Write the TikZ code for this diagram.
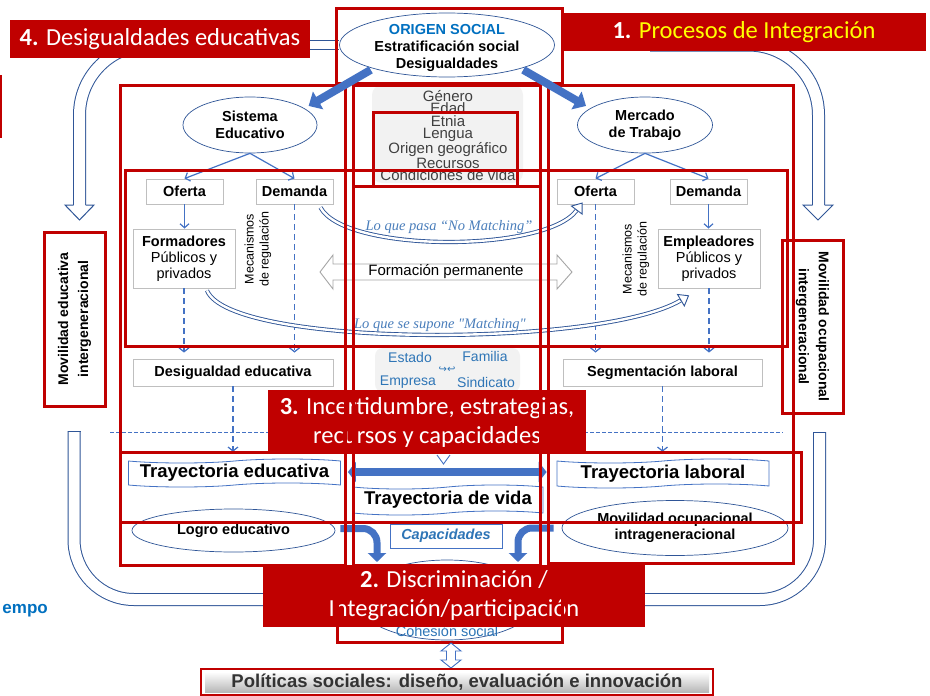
\documentclass[tikz,border=0pt]{standalone}
\usepackage{fontspec}
\setmainfont{Liberation Sans}
\newfontfamily\calfont{Carlito}
\newfontfamily\serffont{Liberation Serif}
\newfontfamily\djvfont{DejaVu Sans}
\usetikzlibrary{shapes.geometric,shapes.symbols,arrows.meta,calc}
\definecolor{dred}{HTML}{C00000}
\definecolor{ablue}{HTML}{4472C4}
\definecolor{dblue}{HTML}{2F5597}
\definecolor{tblue}{HTML}{2E75B6}
\definecolor{obl}{HTML}{0070C0}
\definecolor{itblue}{HTML}{4A7EBB}
\definecolor{lgray}{HTML}{F2F2F2}
\definecolor{bgray}{HTML}{BFBFBF}
\definecolor{agray}{HTML}{A6A6A6}
\definecolor{tgray}{HTML}{404040}
\definecolor{pgray}{HTML}{333333}
\definecolor{ylw}{HTML}{FFFF00}
\newcommand\myfs[2]{\fontsize{#1}{#2}\selectfont}
\begin{document}
\begin{tikzpicture}[x=1pt,y=-1pt,
  ell/.style={ellipse, draw=dblue, line width=0.7pt, fill=white, inner sep=0pt, align=center, font=\myfs{14.5}{16.5}\bfseries},
  gbox/.style={rectangle, draw=bgray, line width=0.9pt, fill=white, inner sep=0pt, align=center, font=\myfs{14.5}{16}},
  redbox/.style={draw=dred, line width=3pt},
  redlab/.style={rectangle, fill=dred, inner sep=0pt, text=white, align=center, font=\calfont\myfs{24.5}{29}},
  thinarr/.style={draw=ablue, line width=1.2pt, -{Straight Barb[length=4pt,width=9pt]}},
  dasharr/.style={draw=ablue, line width=1.2pt, dash pattern=on 6pt off 4pt, -{Straight Barb[length=4pt,width=10pt]}},
  dblcurve/.style={draw=dblue, line width=0.9pt, double=white, double distance=2.4pt},
  curvehead/.style={draw=dblue, line width=0.9pt, -{Triangle[length=10pt,width=15pt,fill=white]}},
  uarrow/.style={draw=dblue, line width=1pt, double=white, double distance=11pt},
  headstyle/.style={draw=dblue, line width=1pt, fill=white, line join=miter},
  blockarr/.style={draw=ablue, line width=8pt, -{Triangle[length=11pt,width=20pt]}},
  fatarr/.style={draw=ablue, line width=8pt, {Triangle[length=8pt,width=20pt]}-{Triangle[length=8pt,width=20pt]}},
  bentarr/.style={draw=ablue, line width=7pt, rounded corners=14pt, -{Triangle[length=9pt,width=18pt]}},
  trajtape/.style={tape, draw=ablue, line width=0.8pt, fill=white, tape bend top=in and out, tape bend bottom=in and out, tape bend height=4pt, inner sep=0pt, font=\myfs{18.5}{20}\bfseries}
]
\fill[white] (0,0) rectangle (930,696);
\useasboundingbox (0,0) rectangle (930,696);

% big U-shaped hollow arrows
\draw[uarrow, rounded corners=70pt] (250,45) -- (79.5,45) -- (79.5,205);
\filldraw[headstyle] (73.5,205) -- (65,205) -- (79.5,220) -- (94,205) -- (85.5,205);
\draw[uarrow, rounded corners=70pt] (650,45) -- (818.5,45) -- (818.5,205);
\filldraw[headstyle] (812.5,205) -- (803,205) -- (818,220) -- (833,205) -- (824.5,205);
\draw[uarrow, rounded corners=60pt] (74,431) -- (74,599.5) -- (300,599.5);
\draw[dblue, line width=1pt] (67.5,431) -- (80.5,431);
\draw[uarrow, rounded corners=60pt] (819.5,432) -- (819.5,599.5) -- (600,599.5);
\draw[dblue, line width=1pt] (813,432) -- (826,432);

% gray areas
\draw[fill=lgray, draw=none, rounded corners=10pt] (372,85) rectangle (523,183);
\node[text=tgray, align=center, font=\myfs{15}{12.5}] (attr) at (448,135.5) {Género\\Edad\\Etnia\\Lengua\\Origen geográfico\\Recursos\\Condiciones de vida};
\draw[fill=lgray, draw=none, rounded corners=8pt] (375,348) rectangle (520,392);
\node[text=tblue, font=\myfs{14}{16}] (estado) at (410,357) {Estado};
\node[text=tblue, font=\myfs{14}{16}] (familia) at (485,356) {Familia};
\node[text=tblue, font=\myfs{14}{16}] (empresa) at (408,382) {Empresa};
\node[text=tblue, font=\myfs{14}{16}] (sindicato) at (486,382) {Sindicato};
\node[text=tblue, font=\djvfont\myfs{10}{10}] (ciclo) at (447,370) {↪↩};

% ellipses
\node[ell, minimum width=215pt, minimum height=64pt] (origen) at (447,45) {};
\node[align=center, font=\myfs{14.5}{17}\bfseries] (origtxt) at (447,47.5) {\textcolor{obl}{ORIGEN SOCIAL}\\Estratificación social\\Desigualdades};
\node[ell, minimum width=134pt, minimum height=56pt] (sist) at (250,125) {Sistema\\Educativo};
\node[ell, minimum width=135pt, minimum height=56pt] (merc) at (645,125) {Mercado\\de Trabajo};

% boxes
\node[gbox, minimum width=77pt, minimum height=25pt, font=\myfs{14.5}{16}\bfseries] (ofL) at (184.5,191.5) {Oferta};
\node[gbox, minimum width=77pt, minimum height=25pt, font=\myfs{14.5}{16}\bfseries] (demL) at (294.5,191.5) {Demanda};
\node[gbox, minimum width=102pt, minimum height=59pt] (formL) at (184,258.5) {\textbf{Formadores}\\Públicos y\\privados};
\node[gbox, minimum width=200pt, minimum height=27pt, font=\myfs{14.5}{16}\bfseries] (desL) at (233,372.5) {Desigualdad educativa};
\node[gbox, minimum width=77pt, minimum height=25pt, font=\myfs{14.5}{16}\bfseries] (ofR) at (595.5,191.5) {Oferta};
\node[gbox, minimum width=77pt, minimum height=25pt, font=\myfs{14.5}{16}\bfseries] (demR) at (708.5,191.5) {Demanda};
\node[gbox, minimum width=102pt, minimum height=59pt] (empR) at (709,258.5) {\textbf{Empleadores}\\Públicos y\\privados};
\node[gbox, minimum width=199pt, minimum height=27pt, font=\myfs{14.5}{16}\bfseries] (segR) at (662.5,372.5) {Segmentación laboral};
\node[rotate=90, align=center, font=\myfs{12.5}{15}] (mecL) at (258,249) {Mecanismos\\de regulación};
\node[rotate=90, align=center, font=\myfs{12.5}{15}] (mecR) at (636,259) {Mecanismos\\de regulación};

% thin arrows
\draw[thinarr] (sist.south) -- (ofL.north);
\draw[thinarr] (sist.south) -- (demL.north);
\draw[thinarr] (merc.south) -- (ofR.north);
\draw[thinarr] (merc.south) -- (demR.north);
\draw[thinarr] (ofL.south) -- (formL.north -| ofL.south);
\draw[thinarr] (demR.south) -- (empR.north -| demR.south);
\draw[dasharr, shorten >=6pt] (formL.south) -- (formL.south |- desL.north);
\draw[dasharr, shorten >=6pt] (demL.south) -- (demL.south |- desL.north);
\draw[dasharr, shorten >=6pt] (ofR.south) -- (ofR.south |- segR.north);
\draw[dasharr, shorten >=6pt] (empR.south) -- (empR.south |- segR.north);

% matching curves
\coordinate (nmEnd) at ($(ofR.south west)+(20,6)$);
\coordinate (mEnd) at ($(empR.south west)+(23,12)$);
\draw[dblcurve] ($(demL.south east)+(-13,3)$) .. controls (345,253) and (545,253) .. (nmEnd);
\draw[curvehead] (nmEnd) -- ($(nmEnd)+(6,-8)$);
\draw[dblcurve] ($(formL.south)+(23,2)$) .. controls (230,348) and (600,348) .. (mEnd);
\draw[curvehead] (mEnd) -- ($(mEnd)+(8.6,-5.1)$);
\node[text=itblue, font=\serffont\itshape\myfs{14.5}{16}] (nomatch) at (449,227) {Lo que pasa “No Matching”};
\node[text=itblue, font=\serffont\itshape\myfs{14.5}{16}] (match) at (440,325) {Lo que se supone "Matching"};

% formacion permanente
\draw[draw=agray, line width=0.9pt, fill=white] (320,272) -- (333,255) -- (333,264) -- (557,264) -- (557,255) -- (572,272) -- (557,289) -- (557,280) -- (333,280) -- (333,289) -- cycle;
\node[font=\myfs{15}{16}] (formperm) at (446,272) {Formación permanente};

% side boxes
\node[draw=dred, line width=3pt, fill=white, rotate=90, minimum width=174pt, minimum height=61pt, inner sep=0pt, align=center, font=\myfs{14}{20}\bfseries] (movE) at (74.5,319) {Movilidad educativa\\intergeneracional};
\node[draw=dred, line width=3pt, fill=white, rotate=-90, minimum width=173pt, minimum height=61pt, inner sep=0pt, align=center, font=\myfs{14}{20}\bfseries] (movO) at (812.5,326.5) {Movilidad ocupacional\\intergeneracional};

% trajectories
\node[trajtape, minimum width=212pt, minimum height=28pt] (trajE) at (234.5,473) {Trayectoria educativa};
\node[trajtape, minimum width=212pt, minimum height=29pt] (trajL) at (663,473.5) {Trayectoria laboral};
\node[trajtape, minimum width=190pt, minimum height=30pt] (trajV) at (448,500) {Trayectoria de vida};
\draw[dasharr, shorten >=9pt] (desL.south) -- (desL.south |- trajE.north);
\draw[dasharr, shorten >=9pt] (segR.south) -- (segR.south |- trajL.north);
\draw[fatarr] ($(trajE.east)+(7,-1)$) -- ($(trajL.west)+(-10,-1.5)$);
\node[draw=ablue, line width=1pt, fill=white, minimum width=112pt, minimum height=24pt, inner sep=0pt, text=tblue, font=\myfs{14.5}{16}\bfseries\itshape] (capac) at (446,536) {Capacidades};
\node[ell, minimum width=203pt, minimum height=43pt] (logro) at (233.5,530.5) {Logro educativo};
\node[ell, minimum width=226pt, minimum height=55pt, font=\myfs{14.5}{16}\bfseries] (movi) at (675,528) {Movilidad ocupacional\\intrageneracional};
\node[ell, minimum width=180pt, minimum height=80pt] (cohes) at (447,600) {};
\node[text=tblue, font=\myfs{14.5}{16}] (cohtxt) at (447,631) {Cohesión social};
\draw[bentarr] ($(logro.east)+(5,-2)$) -- (377,528.5) -- (377,562);
\draw[bentarr] ($(movi.west)+(-8,0)$) -- (518,528) -- (518,562);
\draw[ablue, line width=0.9pt] (437,455) -- (443.5,464) -- (450,455);

% dashed time line
\draw[ablue, line width=0.9pt, dash pattern=on 4pt off 2pt] (110,432) -- (783,432);

% red labels
\draw[dblue, line width=0.9pt, double=white, double distance=7.5pt] (300,45) -- (origen.west);
\node[redlab, minimum width=300pt, minimum height=38pt] (lab4) at (160,39) {\textbf{4.} Desigualdades educativas};
\node[redlab, minimum width=364pt, minimum height=38pt] (lab1) at (744,32) {\textbf{1.} \textcolor{ylw}{Procesos de Integración}};
\node[redlab, minimum width=318pt, minimum height=64pt] (lab3) at (427,422) {\textbf{3.} Incertidumbre, estrategias,\\recursos y capacidades};
\node[redlab, minimum width=382pt, minimum height=62pt] (lab2) at (454,596) {\textbf{2.} Discriminación /\\Integración/participación};

% red outline boxes
\draw[redbox] (336,8) rectangle (562,83);
\draw[redbox] (120,85) rectangle (345,565);
\draw[redbox] (353,85) rectangle (540,565);
\draw[redbox] (548,85) rectangle (793,563);
\draw[redbox] (353,85) rectangle (540,186);
\draw[redbox] (373,112) rectangle (517,186);
\draw[redbox] (125,170) rectangle (787,346);
\draw[redbox] (120,452) rectangle (801,522);
\draw[redbox] (337,566) rectangle (562,642);
\draw[dred, line width=3pt] (0.5,75) -- (0.5,138);

% block arrows from origin
\draw[blockarr] ($(origen.south west)+(0,2)$) -- ($(sist.north east)+(11,1)$);
\draw[blockarr] ($(origen.south east)+(0,2)$) -- ($(merc.north west)+(-11,1)$);

% policies
\draw[ablue, line width=0.9pt, fill=white] (451,643) -- (461,651) -- (455.5,651) -- (455.5,660) -- (461,660) -- (451,668) -- (441,660) -- (446.5,660) -- (446.5,651) -- (441,651) -- cycle;
\node[inner sep=0pt, minimum width=504pt, minimum height=20pt, top color=white, bottom color=black!28, text=pgray, font=\myfs{18.5}{20}\bfseries] (pol) at (457,682) {Políticas sociales: diseño, evaluación e innovación};
\draw[redbox, line width=2.5pt] ($(pol.north west)+(-4,-3)$) rectangle ($(pol.south east)+(4,3)$);
\node[anchor=east, text=obl, font=\myfs{17}{18}\bfseries, inner sep=0pt] (tiempo) at (48,611) {empo};
\end{tikzpicture}
\end{document}
